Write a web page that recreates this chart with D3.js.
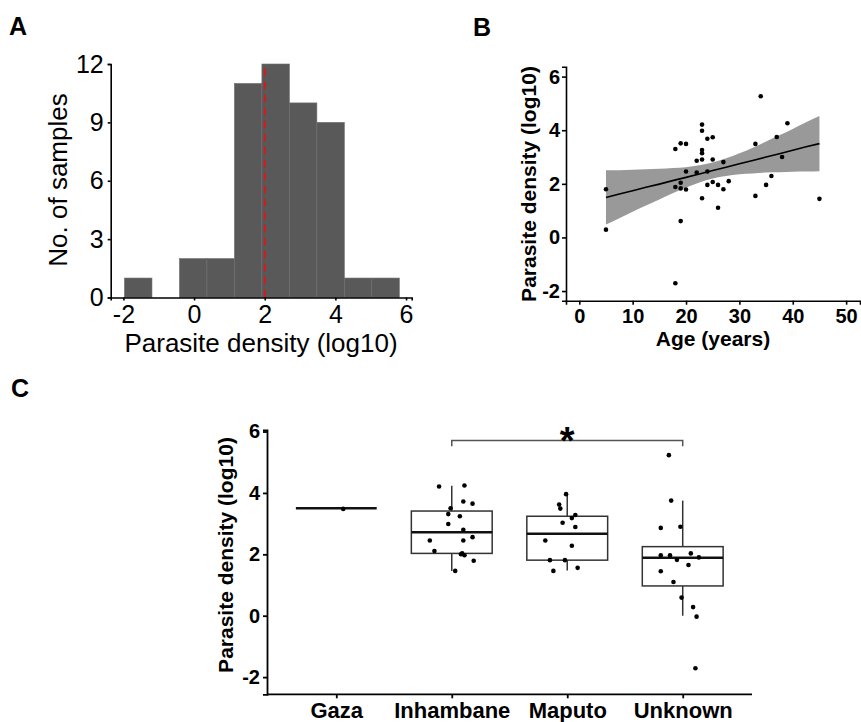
<!DOCTYPE html>
<html>
<head>
<meta charset="utf-8">
<script src="https://cdn.jsdelivr.net/npm/d3@7"></script>
<style>
  html, body { margin: 0; padding: 0; background: #fff; }
  svg { display: block; }
</style>
</head>
<body>
<script>
// ---------------- DATA ----------------
// Panel A: histogram of parasite density (log10)
const histEdges  = [-1.97, -1.192, -0.414, 0.364, 1.142, 1.92, 2.698, 3.476, 4.254, 5.032, 5.81];
const histCounts = [1, 0, 2, 2, 11, 12, 10, 9, 1, 1];
const histMedian = 2;
const histXTicks = [-2, 0, 2, 4, 6];
const histYTicks = [0, 3, 6, 9, 12];

// Panel B: age vs parasite density
const ages = [5, 5, 18, 18, 18, 19, 19, 19, 19, 20, 20, 20, 22, 22, 23, 23, 23, 23, 23, 23,
              24, 24, 24, 25, 25, 25, 26, 26, 27, 27, 28, 33, 33, 34, 35, 36, 37, 38, 39, 45];
const densities = [1.80, 0.29, 3.30, 1.88, -1.71, 3.51, 2.04, 1.83, 0.61, 3.49, 2.46, 1.79, 2.86, 2.42,
                   4.21, 3.98, 3.26, 3.14, 2.91, 1.46, 3.68, 2.46, 1.96, 3.74, 2.91, 2.07, 1.96, 1.11,
                   2.81, 1.80, 2.10, 3.49, 1.55, 5.27, 1.96, 2.29, 3.75, 3.00, 4.26, 1.44];
const fitAge  = [5, 7.5, 10, 12.5, 15, 17.5, 20, 22.5, 25, 27.5, 30, 32.5, 35, 37.5, 40, 42.5, 45];
const fitMid  = [1.49, 1.62, 1.74, 1.87, 1.99, 2.12, 2.24, 2.37, 2.50, 2.62, 2.75, 2.87, 3.00, 3.12, 3.25, 3.38, 3.50];
const fitLow  = [0.48, 0.72, 0.96, 1.19, 1.42, 1.65, 1.86, 2.05, 2.20, 2.29, 2.36, 2.39, 2.42, 2.43, 2.45, 2.46, 2.47];
const fitHigh = [2.51, 2.51, 2.53, 2.54, 2.56, 2.59, 2.62, 2.69, 2.80, 2.95, 3.14, 3.35, 3.58, 3.81, 4.05, 4.30, 4.53];
const bXTicks = [0, 10, 20, 30, 40, 50];
const bYTicks = [-2, 0, 2, 4, 6];

// Panel C: parasite density by region
const regions = ["Gaza", "Inhambane", "Maputo", "Unknown"];
const boxQ1   = [3.50, 2.03, 1.81, 0.97];
const boxMed  = [3.50, 2.72, 2.67, 1.89];
const boxQ3   = [3.50, 3.41, 3.24, 2.25];
const whiskLo = [3.50, 1.46, 1.47, 0.00];
const whiskHi = [3.50, 4.23, 3.99, 3.75];
const ptRegion = [
  "Gaza",
  "Inhambane","Inhambane","Inhambane","Inhambane","Inhambane","Inhambane","Inhambane","Inhambane","Inhambane",
  "Inhambane","Inhambane","Inhambane","Inhambane","Inhambane","Inhambane","Inhambane","Inhambane","Inhambane",
  "Maputo","Maputo","Maputo","Maputo","Maputo","Maputo","Maputo","Maputo","Maputo","Maputo","Maputo","Maputo","Maputo",
  "Unknown","Unknown","Unknown","Unknown","Unknown","Unknown","Unknown","Unknown","Unknown","Unknown","Unknown",
  "Unknown","Unknown","Unknown","Unknown","Unknown"];
const ptValue = [
  3.48,
  4.21, 4.24, 3.72, 3.65, 3.50, 3.31, 3.24, 2.99, 2.80, 2.56, 2.45, 2.45, 2.11, 2.03, 1.97, 2.00, 1.79, 1.46,
  3.96, 3.62, 3.49, 3.28, 3.18, 3.03, 2.89, 2.45, 2.28, 1.81, 1.81, 1.46, 1.56,
  5.23, 3.75, 2.86, 2.90, 1.97, 1.97, 2.03, 1.90, 1.82, 1.65, 1.45, 1.10, 0.59, 0.28, -0.03, -1.71];
const ptJitter = [
  0.06,
  -0.11, 0.11, 0.10, 0.18, -0.01, -0.03, 0.07, -0.03, 0.10, 0.18, -0.19, 0.10, -0.15, 0.09, 0.11, 0.08, 0.19, 0.03,
  -0.01, -0.07, -0.06, 0.07, 0.04, -0.04, 0.07, -0.19, 0.04, -0.15, -0.02, -0.12, 0.09,
  -0.12, -0.10, -0.19, -0.02, -0.19, -0.11, 0.07, 0.14, -0.05, 0.05, -0.19, -0.08, -0.01, 0.09, 0.12, 0.11];
const cYTicks = [-2, 0, 2, 4, 6];
const sigPair = ["Inhambane", "Unknown"];
const sigY = 5.71, sigTickY = 5.52, sigLabel = "*";

// ---------------- DRAW ----------------
const W = 861, H = 722;
const svg = d3.select("body").append("svg").attr("width", W).attr("height", H);
svg.append("rect").attr("width", W).attr("height", H).attr("fill", "#fff");

const regFont = "'Liberation Sans', Arial, sans-serif";
const fmt = d => String(d);   // plain hyphen-minus like the reference

function styleAxis(g, fontSize, bold, lineW) {
  g.select(".domain").attr("stroke", "#000").attr("stroke-width", lineW);
  g.selectAll(".tick line").attr("stroke", "#000").attr("stroke-width", lineW);
  g.selectAll(".tick text").attr("fill", "#000")
    .style("font-family", regFont).style("font-size", fontSize + "px")
    .style("font-weight", bold ? "bold" : "normal");
}

// Panel labels
[["A", 9, 35], ["B", 473, 36], ["C", 11, 397]].forEach(([t, x, y]) => {
  svg.append("text").attr("x", x).attr("y", y).text(t)
    .style("font-family", regFont).style("font-weight", "bold").style("font-size", "25px");
});

// ===== Panel A =====
const xA = d3.scaleLinear().domain([-2.36, 6.16]).range([110.7, 411.7]);
const yA = d3.scaleLinear().domain([0, 12]).range([297.5, 64]);
const gA = svg.append("g");
const bins = histCounts.map((c, i) => ({ x0: histEdges[i], x1: histEdges[i + 1], c }));
gA.selectAll("rect.bar").data(bins.filter(b => b.c > 0)).join("rect")
  .attr("x", d => xA(d.x0)).attr("width", d => xA(d.x1) - xA(d.x0))
  .attr("y", d => yA(d.c)).attr("height", d => yA(0) - yA(d.c))
  .attr("fill", "#595959").attr("stroke", "#6e6e6e").attr("stroke-width", 0.6);
gA.append("line")
  .attr("x1", xA(histMedian)).attr("x2", xA(histMedian))
  .attr("y1", yA(0)).attr("y2", yA(12))
  .attr("stroke", "#d7191c").attr("stroke-width", 2).attr("stroke-dasharray", "8,5");
const axAx = gA.append("g").attr("transform", `translate(0,${yA(0)})`)
  .call(d3.axisBottom(xA).tickValues(histXTicks).tickFormat(fmt).tickSizeOuter(0).tickSize(3).tickPadding(5));
styleAxis(axAx, 25, false, 1.6);
const axAy = gA.append("g").attr("transform", `translate(${xA.range()[0]},0)`)
  .call(d3.axisLeft(yA).tickValues(histYTicks).tickFormat(fmt).tickSizeOuter(0).tickSize(3).tickPadding(4));
styleAxis(axAy, 25, false, 1.6);
gA.append("text").attr("transform", "translate(67,180) rotate(-90)")
  .attr("text-anchor", "middle").text("No. of samples")
  .style("font-family", regFont).style("font-size", "26px");
gA.append("text").attr("x", 261).attr("y", 352)
  .attr("text-anchor", "middle").text("Parasite density (log10)")
  .style("font-family", regFont).style("font-size", "26px");

// ===== Panel B =====
const xB = d3.scaleLinear().domain([-2.49, 52.6]).range([566, 860]);
const yB = d3.scaleLinear().domain([-2.36, 6.37]).range([300.7, 66.7]);
const gB = svg.append("g");
const fit = fitAge.map((a, i) => ({ a, lo: fitLow[i], mid: fitMid[i], hi: fitHigh[i] }));
gB.append("path").datum(fit)
  .attr("d", d3.area().x(d => xB(d.a)).y0(d => yB(d.lo)).y1(d => yB(d.hi)).curve(d3.curveMonotoneX))
  .attr("fill", "#999999");
gB.append("path").datum(fit)
  .attr("d", d3.line().x(d => xB(d.a)).y(d => yB(d.mid)))
  .attr("fill", "none").attr("stroke", "#000").attr("stroke-width", 1.6);
gB.selectAll("circle").data(ages.map((a, i) => [a, densities[i]])).join("circle")
  .attr("cx", d => xB(d[0])).attr("cy", d => yB(d[1])).attr("r", 2.3).attr("fill", "#000");
const axBx = gB.append("g").attr("transform", `translate(0,${yB.range()[0]})`)
  .call(d3.axisBottom(xB).tickValues(bXTicks).tickFormat(fmt).tickSizeOuter(0).tickSize(4).tickPadding(4));
styleAxis(axBx, 20, true, 1.6);
const axBy = gB.append("g").attr("transform", `translate(${xB.range()[0]},0)`)
  .call(d3.axisLeft(yB).tickValues(bYTicks).tickFormat(fmt).tickSizeOuter(0).tickSize(4).tickPadding(2));
styleAxis(axBy, 20, true, 1.6);
gB.append("text").attr("transform", "translate(536,184) rotate(-90)")
  .attr("text-anchor", "middle").text("Parasite density (log10)")
  .style("font-family", regFont).style("font-size", "21px").style("font-weight", "bold");
gB.append("text").attr("x", 713).attr("y", 346)
  .attr("text-anchor", "middle").text("Age (years)")
  .style("font-family", regFont).style("font-size", "21px").style("font-weight", "bold");

// ===== Panel C =====
const xC = d3.scalePoint().domain(regions).range([267, 752]).padding(0.6);
const yC = d3.scaleLinear().domain([-2.56, 6.05]).range([694.3, 430]);
const step = xC.step();
const boxW = step * 0.7;
const gC = svg.append("g");
const boxes = regions.map((r, i) => ({ r, q1: boxQ1[i], med: boxMed[i], q3: boxQ3[i], lo: whiskLo[i], hi: whiskHi[i] }));
const bg = gC.selectAll("g.box").data(boxes).join("g").attr("class", "box");
bg.append("line").attr("x1", d => xC(d.r)).attr("x2", d => xC(d.r))
  .attr("y1", d => yC(d.hi)).attr("y2", d => yC(d.q3))
  .attr("stroke", "#333").attr("stroke-width", 1.5);
bg.append("line").attr("x1", d => xC(d.r)).attr("x2", d => xC(d.r))
  .attr("y1", d => yC(d.q1)).attr("y2", d => yC(d.lo))
  .attr("stroke", "#333").attr("stroke-width", 1.5);
bg.append("rect").attr("x", d => xC(d.r) - boxW / 2).attr("width", boxW)
  .attr("y", d => yC(d.q3)).attr("height", d => yC(d.q1) - yC(d.q3))
  .attr("fill", "#fff").attr("stroke", "#333").attr("stroke-width", 1.5);
bg.append("line").attr("x1", d => xC(d.r) - boxW / 2).attr("x2", d => xC(d.r) + boxW / 2)
  .attr("y1", d => yC(d.med)).attr("y2", d => yC(d.med))
  .attr("stroke", "#111").attr("stroke-width", 2.6);
gC.selectAll("circle").data(ptValue.map((v, i) => ({ r: ptRegion[i], v, j: ptJitter[i] }))).join("circle")
  .attr("cx", d => xC(d.r) + d.j * step).attr("cy", d => yC(d.v)).attr("r", 2.3).attr("fill", "#000");
// significance bracket
gC.append("path")
  .attr("d", `M${xC(sigPair[0])},${yC(sigTickY)}V${yC(sigY)}H${xC(sigPair[1])}V${yC(sigTickY)}`)
  .attr("fill", "none").attr("stroke", "#555").attr("stroke-width", 1.5);
gC.append("text").attr("x", (xC(sigPair[0]) + xC(sigPair[1])) / 2).attr("y", yC(sigY) + 14)
  .attr("text-anchor", "middle").text(sigLabel)
  .style("font-family", regFont).style("font-size", "38px").style("font-weight", "bold");
const axCx = gC.append("g").attr("transform", `translate(0,${yC.range()[0]})`)
  .call(d3.axisBottom(xC).tickSizeOuter(0).tickSize(4).tickPadding(8));
axCx.select(".domain").attr("d", `M${xC.range()[0]},0H${xC.range()[1]}`);
styleAxis(axCx, 22, true, 1.8);
axCx.selectAll(".tick text").attr("dy", null).attr("y", 24.2);
const axCy = gC.append("g").attr("transform", `translate(${xC.range()[0]},0)`)
  .call(d3.axisLeft(yC).tickValues(cYTicks).tickFormat(fmt).tickSizeOuter(0).tickSize(4).tickPadding(3));
styleAxis(axCy, 20, true, 1.8);
gC.append("text").attr("transform", "translate(233,555) rotate(-90)")
  .attr("text-anchor", "middle").text("Parasite density (log10)")
  .style("font-family", regFont).style("font-size", "21px").style("font-weight", "bold");
</script>
</body>
</html>
